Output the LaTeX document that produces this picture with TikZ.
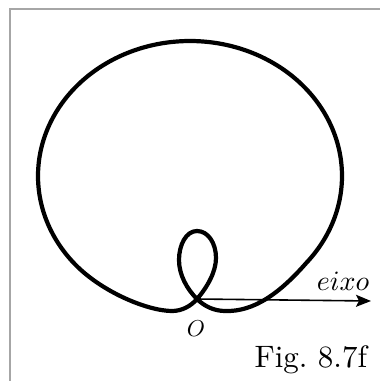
\documentclass[tikz,border=0pt]{standalone}
\usetikzlibrary{arrows.meta}
\begin{document}
\begin{tikzpicture}[x=1pt,y=-1pt,
  curve/.style={line width=4.2pt, line join=round},
  axisline/.style={line width=1.6pt, -{Stealth[length=15pt,width=12pt,inset=3pt]}},
  frame/.style={draw=black!35, line width=1.6pt},
  lbl/.style={inner sep=0pt, anchor=base}]
\useasboundingbox (0,0) rectangle (380,381);
\draw[frame] (10,381) -- (10,9) -- (380,9);
\coordinate (O) at (197,299);
\coordinate (E) at (371,301);
\coordinate (L) at (73.6,262.8);
\coordinate (R) at (306.4,262.8);
\coordinate (LD) at (172,311);
\coordinate (RD) at (225,311);
\coordinate (IR) at (216,258);
\coordinate (IT) at (197,231);
\coordinate (IL) at (179,260);
\draw[axisline] (O) -- (E);
\draw[curve] (L) .. controls (101,292) and (148,311) .. (LD)
  .. controls (182,311) and (191,306) .. (O)
  .. controls (207,287.5) and (216,272) .. (IR)
  .. controls (216,243) and (208,231) .. (IT)
  .. controls (186,231) and (179,245) .. (IL)
  .. controls (179,275) and (187,289) .. (O)
  .. controls (204,306) and (214,311) .. (RD)
  .. controls (254,312) and (280,293) .. (R)
  -- plot[domain=40:-220, samples=200, variable=\t]
     ({190+152*cos(\t)},{176+135*sin(\t)}) -- cycle;
\node[lbl, scale=2.8] (eixo) at (343,290) {$eixo$};
\node[lbl, scale=2.3] (olabel) at (196,336) {$O$};
\node[lbl, anchor=base west, scale=3.1] (fig) at (254,367) {Fig.\ 8.7f};
\end{tikzpicture}
\end{document}
